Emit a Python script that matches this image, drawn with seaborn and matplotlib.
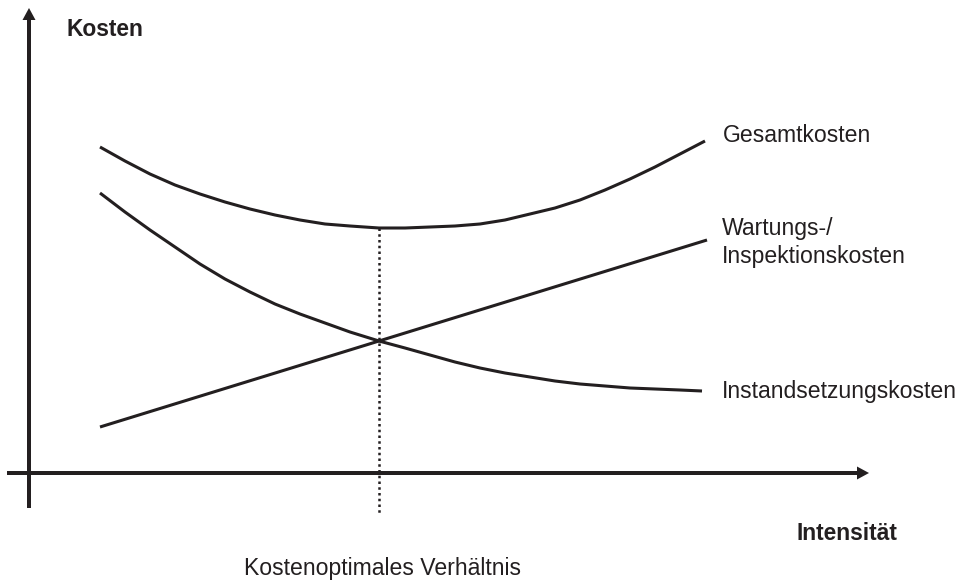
import matplotlib
matplotlib.use("Agg")
import matplotlib.pyplot as plt
import seaborn as sns
import pandas as pd

# ---- data (intensity / cost units, origin at axis crossing) ----
gesamt_x = [71, 96, 121, 146, 171, 196, 221, 246, 271, 296, 321, 350, 376, 401, 426,
            451, 476, 501, 526, 551, 576, 601, 626, 651, 676]
gesamt_y = [326, 312, 299, 288, 279, 271, 264, 258, 253, 249, 247, 245, 245, 246, 247,
            249, 253, 259, 265, 273, 283, 294, 306, 319, 332]

instand_x = [71, 96, 121, 146, 171, 196, 221, 246, 271, 296, 321, 350, 376, 401, 426,
             451, 476, 501, 526, 551, 576, 601, 626, 651, 673]
instand_y = [280, 261, 243, 226, 209, 194, 181, 169, 159, 150, 141, 132, 125, 118, 111,
             105, 100, 96, 92, 89, 87, 85, 84, 83, 82]

wartung_x = [71, 350, 678]
wartung_y = [46, 132, 233]

optimum_x = 350
optimum_cost = 245

labels = ["Gesamtkosten", "Wartungs-/", "Inspektionskosten", "Instandsetzungskosten"]
axis_y_label = "Kosten"
axis_x_label = "Intensität"
optimum_label = "Kostenoptimales Verhältnis"

# ---- long table for seaborn ----
df = pd.concat([
    pd.DataFrame({"Intensität": gesamt_x, "Kosten": gesamt_y, "Kurve": "Gesamtkosten"}),
    pd.DataFrame({"Intensität": instand_x, "Kosten": instand_y, "Kurve": "Instandsetzungskosten"}),
    pd.DataFrame({"Intensität": wartung_x, "Kosten": wartung_y, "Kurve": "Wartungskosten"}),
], ignore_index=True)

sns.set_theme(style="white")
plt.rcParams["font.family"] = ["Liberation Sans", "DejaVu Sans"]

INK = "#231f20"
fig = plt.figure(figsize=(9.64, 5.8), dpi=100)
ax = fig.add_axes([0, 0, 1, 1])
ax.set_xlim(-29, 935)
ax.set_ylim(-107, 473)
ax.set_axis_off()

sns.lineplot(data=df, x="Intensität", y="Kosten", hue="Kurve",
             palette=[INK, INK, INK], legend=False, linewidth=2.2,
             errorbar=None, ax=ax)
for ln in ax.lines:
    ln.set_solid_capstyle("butt")
    ln.set_solid_joinstyle("round")

# axes with arrows (1 data unit == 1 pixel)
ax.arrow(-22, 0, 862, 0, width=4, head_width=13, head_length=12,
         length_includes_head=True, fc=INK, ec="none")
ax.arrow(0, -35, 0, 500, width=4, head_width=13, head_length=12,
         length_includes_head=True, fc=INK, ec="none")

# dotted optimum line
ax.plot([optimum_x, optimum_x], [optimum_cost, -42], color=INK, lw=1.8,
        linestyle=(0, (1, 1.3)), dash_capstyle="butt")

fs = 16.6
ax.text(38, 437, axis_y_label, fontsize=16.4, fontweight="bold", color=INK, va="baseline", ha="left")
ax.text(768, -67, axis_x_label, fontsize=16.4, fontweight="bold", color=INK, va="baseline", ha="left")
ax.text(353, -102, optimum_label, fontsize=fs, color=INK, va="baseline", ha="center")
ax.text(694, 331, labels[0], fontsize=fs, color=INK, va="baseline", ha="left")
ax.text(693, 238, labels[1], fontsize=fs, color=INK, va="baseline", ha="left")
ax.text(693, 210, labels[2], fontsize=fs, color=INK, va="baseline", ha="left")
ax.text(693, 75, labels[3], fontsize=fs, color=INK, va="baseline", ha="left")

fig.savefig("out.png", dpi=100)
